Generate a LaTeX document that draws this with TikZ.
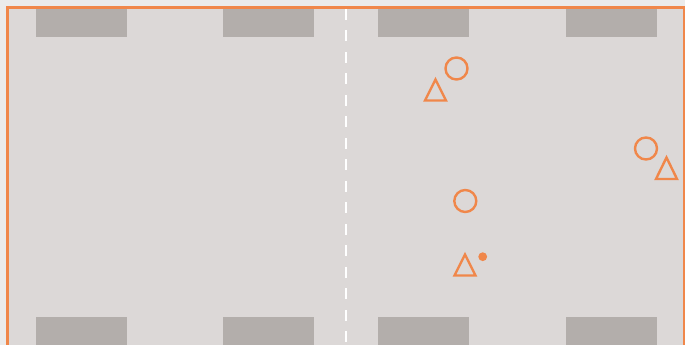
\documentclass[tikz,border=0pt]{standalone}
\usetikzlibrary{shapes.geometric}
\definecolor{outerbg}{HTML}{EBEBEB}
\definecolor{field}{HTML}{DCD8D7}
\definecolor{zone}{HTML}{B3AEAB}
\definecolor{orng}{HTML}{F0874A}
\tikzset{
  zonebox/.style={fill=zone, draw=none},
  marker/.style={draw=orng, line width=2.4pt, fill=none},
}
\begin{document}
\begin{tikzpicture}[x=1pt,y=1pt]
\useasboundingbox (0,0) rectangle (685,345);
\fill[outerbg] (0,0) rectangle (685,345);
% field
\fill[field] (9,0) rectangle (683,336);
\draw[orng, line width=3pt] (7.5,-5) -- (7.5,337.5) -- (684,337.5) -- (684,-5);
% zones top
\foreach \x in {36,223,378,566}{
  \fill[zone] (\x,308) rectangle (\x+91,336);
  \fill[zone] (\x,0) rectangle (\x+91,28);
}
% center dashed line
\draw[white, line width=2.6pt, dash pattern=on 11pt off 10.5pt] (346,336) -- (346,0);
% circles
\draw[marker] (456.5,276.5) circle (11);
\draw[marker] (646,196.5) circle (11);
\draw[marker] (465.3,144) circle (11);
% triangles
\draw[marker, line join=miter] (435.5,265.5) -- (446,244.5) -- (425,244.5) -- cycle;
\draw[marker, line join=miter] (666.5,187.5) -- (677,166) -- (656,166) -- cycle;
\draw[marker, line join=miter] (465,90.5) -- (475.5,69.5) -- (454.5,69.5) -- cycle;
% dot
\fill[orng] (482.7,88.3) circle (4.4);
\end{tikzpicture}
\end{document}
